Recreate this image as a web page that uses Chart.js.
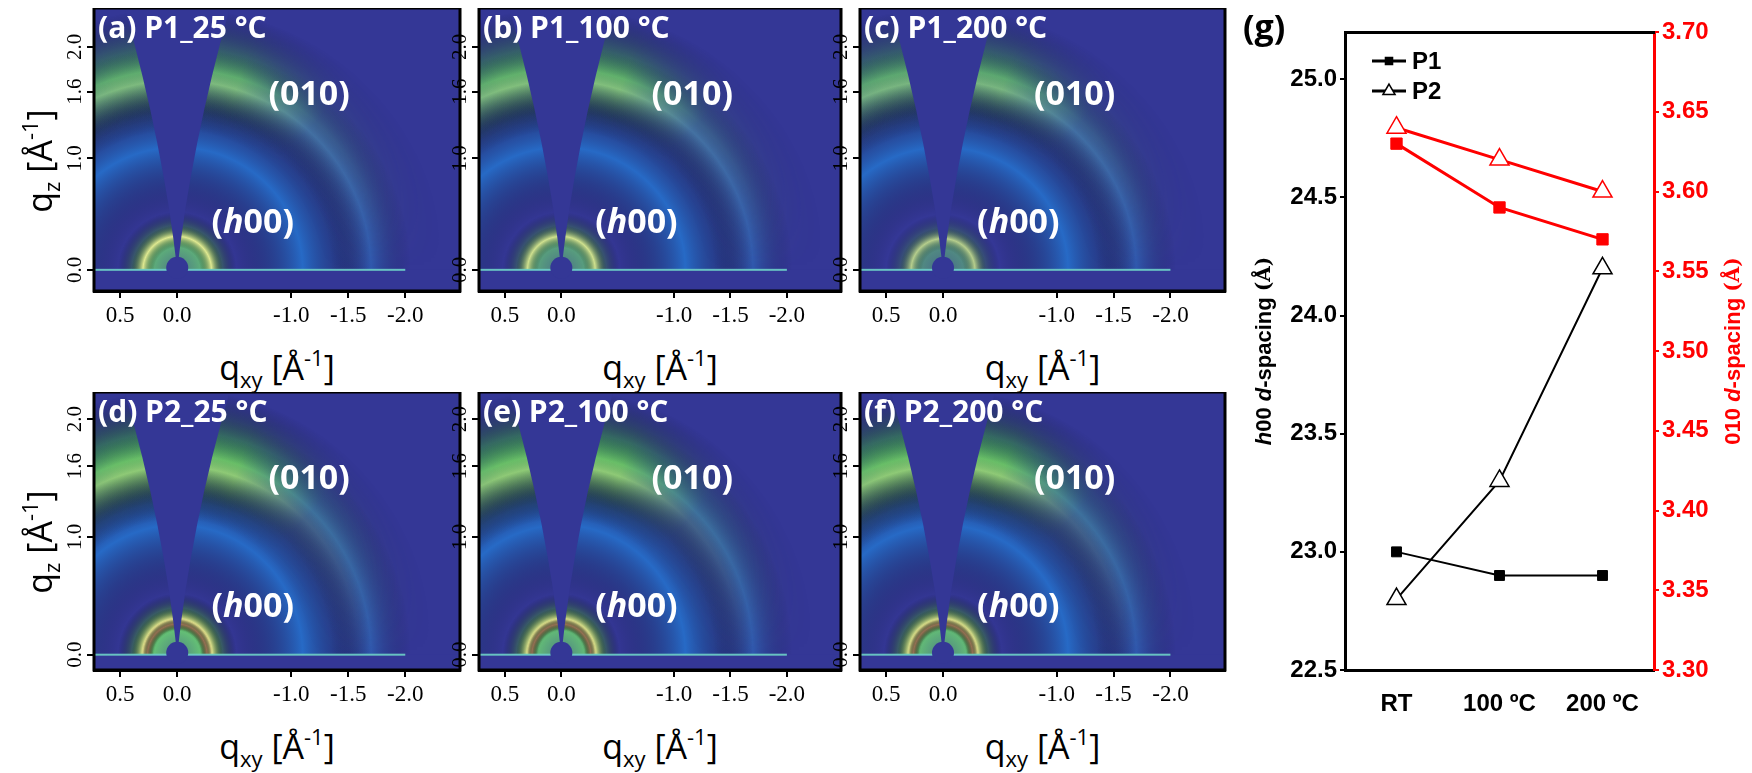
<!DOCTYPE html>
<html>
<head>
<meta charset="UTF-8">
<title>GIWAXS and d-spacing</title>
<script src="https://cdn.jsdelivr.net/npm/chart.js"></script>
<style>
  body { margin:0; background:#fff; width:1752px; height:773px; position:relative; overflow:hidden; font-family:"Open Sans", "Liberation Sans", sans-serif; }
  .box { position:absolute; }
  .lab { position:absolute; font-family:"Open Sans"; font-size:34px; line-height:40px; color:#000; white-space:nowrap; text-align:center; }
  sub { font-size:22px; vertical-align:-8px; }
  sup { font-size:22px; vertical-align:14px; }
</style>
</head>
<body>
<div id="root"></div>
<script>
// ---- panel (g) data ----
const gCategories = ['RT', '100 \u00BAC', '200 \u00BAC'];
const p1H00 = [23.0, 22.9, 22.9];
const p2H00 = [22.8, 23.3, 24.2];
const p1D010 = [3.63, 3.59, 3.57];
const p2D010 = [3.64, 3.62, 3.60];
const leftTicks = [22.5, 23.0, 23.5, 24.0, 24.5, 25.0];
const rightTicks = [3.30, 3.35, 3.40, 3.45, 3.50, 3.55, 3.60, 3.65, 3.70];

// ---- GIWAXS panels ----
const panelNames = ['(a) P1_25 \u00B0C', '(b) P1_100 \u00B0C', '(c) P1_200 \u00B0C',
                    '(d) P2_25 \u00B0C', '(e) P2_100 \u00B0C', '(f) P2_200 \u00B0C'];
const qxyTicks = [0.5, 0.0, -1.0, -1.5, -2.0];
const qzTicks = [0.0, 1.0, 1.6, 2.0];
// ring positions (q, A^-1) and relative brightness per panel
const ring010Q = [1.8, 1.8, 1.8, 1.7, 1.7, 1.7];
const ring010I = [0.75, 0.8, 0.7, 0.95, 0.95, 0.95];
const ringH00Q = [0.3, 0.3, 0.28, 0.3, 0.3, 0.3];
const ringH00I = [0.85, 0.75, 0.6, 1.0, 0.95, 0.95];

const panelBoxes = [[94,8,366,283],[479,8,362,283],[860,8,365,283],
                    [94,392,366,278],[479,392,362,278],[860,392,365,278]];
const qzRanges = [[-0.19,2.35],[-0.19,2.35],[-0.19,2.35],[-0.13,2.23],[-0.13,2.23],[-0.13,2.23]];

const NAVY = '#343796';

const giPlugin = {
  id: 'gi',
  beforeDatasetsDraw(chart, args, o) {
    const {ctx, chartArea:a, scales:{x, y}} = chart;
    const ox = x.getPixelForValue(0), oy = y.getPixelForValue(0);
    const kx = Math.abs(x.getPixelForValue(1) - ox), ky = Math.abs(y.getPixelForValue(1) - oy);
    // offscreen layer so the 010 arc can be faded by azimuth
    const W = chart.canvas.width, H = chart.canvas.height, dpr = chart.currentDevicePixelRatio;
    const off = document.createElement('canvas'); off.width = W; off.height = H;
    const c2 = off.getContext('2d'); c2.scale(dpr, dpr);
    function ring(c, q, w, col, inner) {
      c.save();
      c.translate(ox, oy); c.scale(kx, ky);
      const g = c.createRadialGradient(0,0,Math.max(0,q-w),0,0,q+w);
      g.addColorStop(0, inner || 'rgba(0,0,0,0)');
      g.addColorStop(0.5, col);
      g.addColorStop(1, 'rgba(0,0,0,0)');
      c.fillStyle = g;
      c.beginPath(); c.arc(0,0,q+w,Math.PI,2*Math.PI); c.fill();
      c.restore();
    }
    ring(c2, o.q010, 0.55, `rgba(90,215,110,${o.i010})`);
    ring(c2, o.q010-0.1, 0.3, `rgba(200,240,130,${o.i010*0.6})`);
    c2.globalCompositeOperation = 'destination-in';
    const cg = c2.createConicGradient(Math.PI, ox, oy);
    cg.addColorStop(0, 'rgba(0,0,0,0.35)');
    cg.addColorStop(0.2, 'rgba(0,0,0,1)');
    cg.addColorStop(0.3, 'rgba(0,0,0,1)');
    cg.addColorStop(0.37, 'rgba(0,0,0,0.25)');
    cg.addColorStop(0.5, 'rgba(0,0,0,0.0)');
    cg.addColorStop(1, 'rgba(0,0,0,0)');
    c2.fillStyle = cg; c2.fillRect(0, 0, W, H);

    ctx.save();
    ctx.beginPath(); ctx.rect(a.left, a.top, a.right-a.left, a.bottom-a.top); ctx.clip();
    ctx.fillStyle = NAVY;
    ctx.fillRect(a.left, a.top, a.right-a.left, a.bottom-a.top);
    ring(ctx, 1.1, 0.6, 'rgba(30,140,230,0.6)');
    ring(ctx, 1.7, 0.35, 'rgba(40,150,220,0.35)');
    ctx.drawImage(off, 0, 0, W / dpr, H / dpr);
    ring(ctx, o.qh00, 0.22, `rgba(110,220,110,${o.ih00})`, `rgba(110,220,110,${o.ih00*0.6})`);
    ring(ctx, o.qh00, 0.1, `rgba(245,240,150,${o.ih00})`);
    if (o.strong) ring(ctx, o.qh00 - 0.04, 0.05, 'rgba(150,105,80,0.9)');
    // missing wedge
    ctx.fillStyle = NAVY;
    ctx.beginPath(); ctx.moveTo(ox, oy);
    ctx.quadraticCurveTo(x.getPixelForValue(0.12), y.getPixelForValue(1.1), x.getPixelForValue(0.46), a.top);
    ctx.lineTo(x.getPixelForValue(-0.46), a.top);
    ctx.quadraticCurveTo(x.getPixelForValue(-0.12), y.getPixelForValue(1.1), ox, oy);
    ctx.closePath(); ctx.fill();
    // horizon
    ctx.fillRect(a.left, oy, a.right-a.left, a.bottom-oy);
    ctx.fillStyle = 'rgba(110,210,200,0.9)';
    ctx.fillRect(a.left, oy-1, x.getPixelForValue(-2.0)-a.left, 2);
    ctx.fillStyle = NAVY;
    ctx.beginPath(); ctx.arc(ox, oy-2, 11, 0, 2*Math.PI); ctx.fill();
    // labels
    ctx.fillStyle = '#fff';
    ctx.textBaseline = 'top';
    ctx.font = 'bold 30px "Open Sans"';
    ctx.fillText(o.name, a.left+4, a.top+6);
    ctx.font = 'bold 34px "Open Sans"';
    ctx.fillText('(010)', x.getPixelForValue(-0.8), a.top + 70);
    const hx = x.getPixelForValue(-0.3), hy = a.top + 198;
    ctx.fillText('(', hx, hy);
    let w = ctx.measureText('(').width;
    ctx.font = 'italic bold 34px "Open Sans"';
    ctx.fillText('h', hx+w, hy);
    w += ctx.measureText('h').width;
    ctx.font = 'bold 34px "Open Sans"';
    ctx.fillText('00)', hx+w, hy);
    ctx.restore();
    ctx.save();
    ctx.strokeStyle = '#000'; ctx.lineWidth = 3;
    ctx.strokeRect(a.left, a.top, a.right-a.left, a.bottom-a.top);
    ctx.restore();
  },
  afterDraw(chart) {
    const {ctx, chartArea:a, scales:{y}} = chart;
    ctx.save();
    ctx.fillStyle = '#000';
    ctx.font = '21px "Liberation Serif"';
    ctx.textAlign = 'center'; ctx.textBaseline = 'bottom';
    qzTicks.forEach(v => {
      ctx.save();
      ctx.translate(a.left - 8, y.getPixelForValue(v));
      ctx.rotate(-Math.PI/2);
      ctx.fillText(v.toFixed(1), 0, 0);
      ctx.restore();
    });
    ctx.restore();
  }
};

const root = document.getElementById('root');
panelBoxes.forEach((b, i) => {
  const [L, T, W, H] = b;
  const padL = 34, padB = 44;
  const div = document.createElement('div');
  div.className = 'box';
  div.style.left = (L - padL) + 'px'; div.style.top = T + 'px';
  div.style.width = (W + padL + 2) + 'px'; div.style.height = (H + padB) + 'px';
  const cv = document.createElement('canvas');
  div.appendChild(cv); root.appendChild(div);
  new Chart(cv, {
    type: 'scatter',
    data: { datasets: [{ data: [] }] },
    plugins: [giPlugin],
    options: {
      responsive: true, maintainAspectRatio: false, animation: false,
      layout: { padding: { right: 2, top: 0 } },
      plugins: { legend: { display: false }, tooltip: { enabled: false },
        gi: { name: panelNames[i], q010: ring010Q[i], i010: ring010I[i], qh00: ringH00Q[i], ih00: ringH00I[i], strong: i >= 3 } },
      scales: {
        x: { type: 'linear', reverse: true, min: -2.48, max: 0.73,
             afterBuildTicks: s => { s.ticks = qxyTicks.map(v => ({ value: v })); },
             afterFit: s => { s.height = padB; },
             grid: { display: true, drawOnChartArea: false, tickLength: 7, color: '#000', lineWidth: 2 },
             border: { color: '#000', width: 3 },
             ticks: { color: '#000', font: { family: 'Liberation Serif', size: 23 }, padding: 4,
                      maxRotation: 0, callback: v => v.toFixed(1) } },
        y: { type: 'linear', min: qzRanges[i][0], max: qzRanges[i][1],
             afterBuildTicks: s => { s.ticks = qzTicks.map(v => ({ value: v })); },
             afterFit: s => { s.width = padL; },
             grid: { display: true, drawOnChartArea: false, tickLength: 7, color: '#000', lineWidth: 2 },
             border: { color: '#000', width: 3 },
             ticks: { display: false } }
      }
    }
  });
  const xl = document.createElement('div');
  xl.className = 'lab';
  xl.innerHTML = 'q<sub>xy</sub> [Å<sup>-1</sup>]';
  xl.style.left = (L + W/2 - 100) + 'px'; xl.style.width = '200px';
  xl.style.top = (T + H + 46) + 'px';
  root.appendChild(xl);
  if (i % 3 === 0) {
    const yl = document.createElement('div');
    yl.className = 'lab';
    yl.innerHTML = 'q<sub>z</sub> [Å<sup>-1</sup>]';
    yl.style.width = '200px';
    yl.style.left = (40 - 100) + 'px'; yl.style.top = (T + H/2 - 20) + 'px';
    yl.style.transform = 'rotate(-90deg)';
    root.appendChild(yl);
  }
});

// ---- panel (g) ----
const gDiv = document.createElement('div');
gDiv.className = 'box';
gDiv.style.left = '1235px'; gDiv.style.top = '0px';
gDiv.style.width = '517px'; gDiv.style.height = '720px';
const gCv = document.createElement('canvas');
gDiv.appendChild(gCv); root.appendChild(gDiv);

function richText(ctx, parts, cx, cy, rot) {
  ctx.save();
  ctx.translate(cx, cy); ctx.rotate(rot);
  let total = 0;
  parts.forEach(p => { ctx.font = p[1]; total += ctx.measureText(p[0]).width; });
  let xx = -total/2;
  ctx.textBaseline = 'middle';
  parts.forEach(p => { ctx.font = p[1]; ctx.fillText(p[0], xx, 0); xx += ctx.measureText(p[0]).width; });
  ctx.restore();
}

const gText = {
  id: 'gText',
  afterDraw(chart) {
    const {ctx, chartArea:a} = chart;
    const B = 'bold 22px "Liberation Sans"', BI = 'italic bold 22px "Liberation Sans"', S = 'bold 20px "DejaVu Serif"';
    ctx.save();
    ctx.font = 'bold 34px "Open Sans"'; ctx.fillStyle = '#000';
    ctx.textBaseline = 'top';
    ctx.fillText('(g)', 8, 12);
    const mid = (a.top + a.bottom)/2;
    richText(ctx, [['h', BI], ['00 ', B], ['d', BI], ['-spacing ', B], ['(Å)', S]], a.left - 80, mid, -Math.PI/2);
    ctx.fillStyle = '#f00';
    richText(ctx, [['010 ', B], ['d', BI], ['-spacing ', B], ['(Å)', S]], a.right + 80, mid, -Math.PI/2);
    const ds = chart.data.datasets;
    [0, 1].forEach(k => {
      const ly = a.top + 29 + k * 30, lx = a.left + 44;
      ctx.strokeStyle = '#000'; ctx.lineWidth = 3;
      ctx.beginPath(); ctx.moveTo(lx - 17, ly); ctx.lineTo(lx + 17, ly); ctx.stroke();
      ctx.lineWidth = 1.5;
      ctx.fillStyle = ds[k].backgroundColor; ctx.strokeStyle = '#000';
      Chart.helpers.drawPoint(ctx, { pointStyle: ds[k].pointStyle, radius: k ? 7 : 5, rotation: 0, borderWidth: 1.5 }, lx, ly);
      ctx.fillStyle = '#000';
      ctx.font = 'bold 24px "Liberation Sans"'; ctx.textBaseline = 'middle';
      ctx.fillText(ds[k].label, lx + 23, ly + 1);
    });
    ctx.restore();
  }
};

new Chart(gCv, {
  type: 'line',
  data: {
    labels: gCategories,
    datasets: [
      { label: 'P1', data: p1H00, yAxisID: 'y', borderColor: '#000', backgroundColor: '#000',
        pointStyle: 'rect', pointRadius: 7, pointBorderWidth: 1, borderWidth: 2 },
      { label: 'P2', data: p2H00, yAxisID: 'y', borderColor: '#000', backgroundColor: '#fff',
        pointStyle: 'triangle', pointRadius: 11, pointBorderWidth: 1.5, borderWidth: 2 },
      { label: 'P1 010', data: p1D010, yAxisID: 'y1', borderColor: '#f00', backgroundColor: '#f00',
        pointStyle: 'rect', pointRadius: 8, pointBorderWidth: 1, borderWidth: 3 },
      { label: 'P2 010', data: p2D010, yAxisID: 'y1', borderColor: '#f00', backgroundColor: '#fff',
        pointStyle: 'triangle', pointRadius: 11, pointBorderWidth: 1.5, borderWidth: 3 }
    ]
  },
  plugins: [gText],
  options: {
    responsive: true, maintainAspectRatio: false, animation: false,
    layout: { padding: { top: 24, left: 0, right: 0, bottom: 0 } },
    plugins: { tooltip: { enabled: false }, legend: { display: false } },
    scales: {
      x: { offset: true, afterFit: s => { s.height = 50; },
           grid: { display: false }, border: { color: '#000', width: 3 },
           ticks: { color: '#000', font: { family: 'Liberation Sans', size: 24, weight: 'bold' }, padding: 12 } },
      y: { position: 'left', min: 22.5, max: 25.2,
           afterBuildTicks: s => { s.ticks = leftTicks.map(v => ({ value: v })); },
           afterFit: s => { s.width = 110; },
           grid: { display: true, drawOnChartArea: false, tickLength: 5, color: '#000', lineWidth: 2 },
           border: { color: '#000', width: 3 },
           ticks: { color: '#000', font: { family: 'Liberation Sans', size: 24, weight: 'bold' }, padding: 3, callback: v => v.toFixed(1) } },
      y1: { position: 'right', min: 3.30, max: 3.70,
            afterBuildTicks: s => { s.ticks = rightTicks.map(v => ({ value: v })); },
            afterFit: s => { s.width = 98; },
            grid: { display: true, drawOnChartArea: false, tickLength: 5, color: '#f00', lineWidth: 2 },
            border: { color: '#f00', width: 3 },
            ticks: { color: '#f00', font: { family: 'Liberation Sans', size: 24, weight: 'bold' }, padding: 3, callback: v => v.toFixed(2) } },
      top: { type: 'category', position: 'top', labels: gCategories, offset: true,
             grid: { display: false }, border: { color: '#000', width: 3 }, ticks: { display: false } }
    }
  }
});
</script>
</body>
</html>
